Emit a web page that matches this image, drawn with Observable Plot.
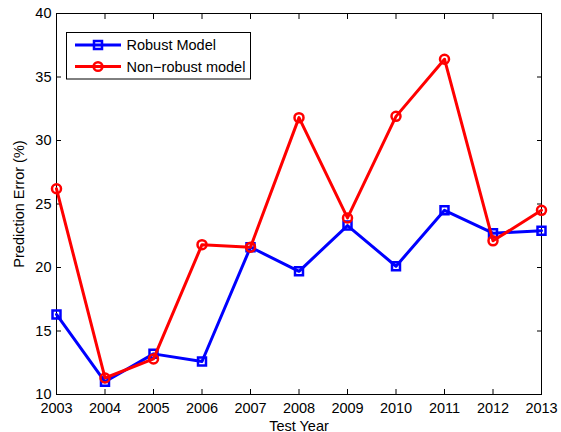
<!DOCTYPE html>
<html><head><meta charset="utf-8">
<script src="https://cdn.jsdelivr.net/npm/d3@7"></script>
<script src="https://cdn.jsdelivr.net/npm/@observablehq/plot@0.6"></script>
<style>body{margin:0;background:#fff;} #chart{position:relative;width:561px;height:432px;}</style>
</head><body><div id="chart"></div>
<script>
const years = [2003, 2004, 2005, 2006, 2007, 2008, 2009, 2010, 2011, 2012, 2013];
const robust = [16.3, 11.0, 13.2, 12.6, 21.6, 19.7, 23.3, 20.1, 24.5, 22.7, 22.9];
const nonRobust = [26.2, 11.3, 12.8, 21.8, 21.6, 31.8, 23.9, 31.9, 36.4, 22.1, 24.5];
const seriesNames = ["Robust Model", "Non\u2212robust model"];
const seriesColors = ["#0000ff", "#ff0000"];
const seriesSymbols = ["square", "circle"];
const yTicks = [10, 15, 20, 25, 30, 35, 40];
const xLabel = "Test Year";
const yLabel = "Prediction Error (%)";

const seriesValues = [robust, nonRobust];
const tables = seriesNames.map((name, s) => years.map((yr, i) => ({year: yr, value: seriesValues[s][i], series: name})));

const font = "'Liberation Sans', Arial, Helvetica, sans-serif";
const seriesMarks = tables.flatMap((rows, s) => [
  Plot.line(rows, {x: "year", y: "value", stroke: seriesColors[s], strokeWidth: 3}),
  Plot.dot(rows, {x: "year", y: "value", symbol: seriesSymbols[s], stroke: seriesColors[s], fill: "none", strokeWidth: 2.5, r: 4.5})
]);

const plot = Plot.plot({
  width: 561, height: 432,
  marginLeft: 56, marginRight: 20, marginTop: 13, marginBottom: 38,
  style: {fontFamily: font, fontSize: "14.5px", background: "white", color: "black", overflow: "visible"},
  x: {domain: [2003, 2013]},
  y: {domain: [10, 40]},
  marks: [
    Plot.axisX({anchor: "bottom", ticks: years, tickFormat: "d", tickSize: -5, tickPadding: 13, label: xLabel, labelArrow: "none", labelAnchor: "center", labelOffset: 36}),
    Plot.axisX({anchor: "top", ticks: years, tickSize: -5, tickFormat: () => "", label: null}),
    Plot.axisY({anchor: "left", ticks: yTicks, tickSize: -5, tickPadding: 10, label: yLabel, labelArrow: "none", labelAnchor: "center", labelOffset: 43}),
    Plot.axisY({anchor: "right", ticks: yTicks, tickSize: -5, tickFormat: () => "", label: null}),
    Plot.frame({stroke: "black", strokeWidth: 1}),
    ...seriesMarks
  ]
});
document.getElementById("chart").appendChild(plot);

// Legend (drawn in the SVG with d3)
const svg = d3.select(plot);
const lg = svg.append("g").attr("transform", "translate(66.5,32.5)");
lg.append("rect").attr("width", 184).attr("height", 46.5).attr("fill", "white").attr("stroke", "black").attr("stroke-width", 1);
const sym = [d3.symbolSquare, d3.symbolCircle];
seriesNames.forEach((name, s) => {
  const gy = 12.5 + s * 21.5;
  const row = lg.append("g").attr("transform", `translate(0,${gy})`);
  row.append("line").attr("x1", 8.5).attr("x2", 54.5).attr("y1", 0).attr("y2", 0).attr("stroke", seriesColors[s]).attr("stroke-width", 3);
  row.append("path").attr("d", d3.symbol(sym[s], s === 0 ? 64 : 60)()).attr("transform", "translate(31.5,0)").attr("fill", "none").attr("stroke", seriesColors[s]).attr("stroke-width", 2.5);
  row.append("text").attr("x", 60).attr("y", 0).attr("dy", "0.36em").attr("text-anchor", "start").attr("font-family", font).attr("font-size", "14.5px").attr("fill", "black").text(name);
});
</script>
</body></html>
